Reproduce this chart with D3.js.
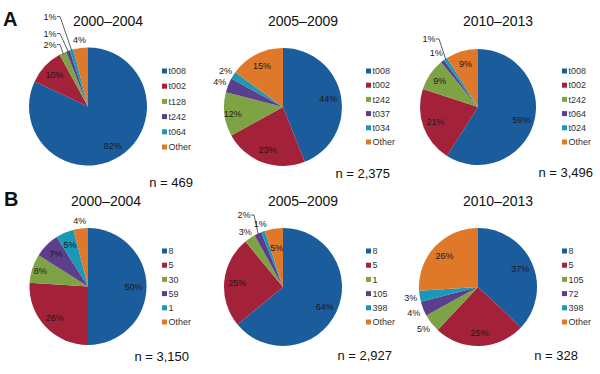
<!DOCTYPE html>
<html><head><meta charset="utf-8">
<script src="https://cdn.jsdelivr.net/npm/d3@7"></script>
<style>
body{margin:0;background:#fff}
svg{display:block;font-family:Arial,"Liberation Sans",Helvetica,sans-serif}
</style>
</head><body>
<svg id="chart" width="600" height="374"></svg>
<script>
// ---------- data ----------
const periods = ["2000–2004", "2005–2009", "2010–2013"];
const panelLetters = ["A", "B"];

const spaCats2000 = ["t008", "t002", "t128", "t242", "t064", "Other"];
const spaVals2000 = [82, 10, 2, 1, 1, 4];
const spaCats2005 = ["t008", "t002", "t242", "t037", "t034", "Other"];
const spaVals2005 = [44, 23, 12, 4, 2, 15];
const spaCats2010 = ["t008", "t002", "t242", "t064", "t024", "Other"];
const spaVals2010 = [59, 21, 9, 1, 1, 9];

const mlstCats2000 = ["8", "5", "30", "59", "1", "Other"];
const mlstVals2000 = [50, 26, 8, 7, 5, 4];
const mlstCats2005 = ["8", "5", "1", "105", "398", "Other"];
const mlstVals2005 = [64, 25, 3, 2, 1, 5];
const mlstCats2010 = ["8", "5", "105", "72", "398", "Other"];
const mlstVals2010 = [37, 25, 5, 4, 3, 26];

const sampleSizes = ["n = 469", "n = 2,375", "n = 3,496", "n = 3,150", "n = 2,927", "n = 328"];

const sliceColors = ["#1b5c9c", "#a4213a", "#7ea345", "#5b3f8c", "#1b98b8", "#e0782a"];

// ---------- layout (positions/styles only) ----------
const panels = [
  {cats: spaCats2000, vals: spaVals2000, title: periods[0], n: sampleSizes[0]},
  {cats: spaCats2005, vals: spaVals2005, title: periods[1], n: sampleSizes[1]},
  {cats: spaCats2010, vals: spaVals2010, title: periods[2], n: sampleSizes[2]},
  {cats: mlstCats2000, vals: mlstVals2000, title: periods[0], n: sampleSizes[3]},
  {cats: mlstCats2005, vals: mlstVals2005, title: periods[1], n: sampleSizes[4]},
  {cats: mlstCats2010, vals: mlstVals2010, title: periods[2], n: sampleSizes[5]}
];

const layout = [
  {cx: 88, cy: 106.5, r: 59, tx: 108, ty: 26, lx: 162, ly: 71, ld: 15.2, nx: 193, ny: 187,
   labels: [{t:"in"}, {t:"in"}, {t:"call", x:-38, y:-62}, {t:"call", x:-38, y:-73}, {t:"call", x:-38, y:-90}, {t:"out", d:8}]},
  {cx: 283, cy: 107, r: 59, tx: 303, ty: 26, lx: 366, ly: 71, ld: 14.2, nx: 390, ny: 178,
   labels: [{t:"in"}, {t:"in"}, {t:"in", k:0.86}, {t:"out", d:9}, {t:"out", d:9}, {t:"in"}]},
  {cx: 478, cy: 107, r: 58, tx: 498, ty: 26, lx: 562, ly: 71, ld: 14.2, nx: 593, ny: 177,
   labels: [{t:"in"}, {t:"in"}, {t:"in", k:0.8}, {t:"out", d:10}, {t:"call", x:-49, y:-68}, {t:"in"}]},
  {cx: 88, cy: 286.5, r: 58.5, tx: 106, ty: 206, lx: 162, ly: 251, ld: 14.2, nx: 189, ny: 361,
   labels: [{t:"in"}, {t:"in"}, {t:"in", k:0.86}, {t:"in"}, {t:"in"}, {t:"out", d:8}]},
  {cx: 283, cy: 287, r: 59, tx: 303, ty: 206, lx: 366, ly: 251, ld: 14.2, nx: 392, ny: 360,
   labels: [{t:"in"}, {t:"in"}, {t:"out", d:8}, {t:"call", x:-39, y:-72}, {t:"out", d:8}, {t:"in", k:0.68}]},
  {cx: 478, cy: 287, r: 59, tx: 498, ty: 206, lx: 562, ly: 251, ld: 14.2, nx: 578, ny: 360,
   labels: [{t:"in"}, {t:"in"}, {t:"out", d:10}, {t:"out", d:10}, {t:"out", d:9}, {t:"in"}]}
];

const svg = d3.select("#chart");
const pie = d3.pie().sort(null).value(d => d.v);

panels.forEach((p, i) => {
  const L = layout[i];
  const data = pie(p.cats.map((c, j) => ({c, v: p.vals[j], j})));
  const arc = d3.arc().innerRadius(0).outerRadius(L.r);
  const g = svg.append("g").attr("transform", `translate(${L.cx},${L.cy})`);

  g.selectAll("path.slice").data(data).join("path")
    .attr("class", "slice")
    .attr("d", arc)
    .attr("fill", d => sliceColors[d.data.j]);

  data.forEach((d, j) => {
    const pl = L.labels[j];
    const mid = (d.startAngle + d.endAngle) / 2;
    const ux = Math.sin(mid), uy = -Math.cos(mid);
    let x, y;
    if (pl.t === "in") {
      const k = pl.k || 0.78;
      x = ux * L.r * k; y = uy * L.r * k;
    } else if (pl.t === "out") {
      const rr = L.r + (pl.d || 9);
      x = ux * rr; y = uy * rr;
    } else {
      x = pl.x; y = pl.y;
      const ax = ux * (L.r - 1), ay = uy * (L.r - 1);
      g.append("path")
        .attr("d", `M${x + 7},${y}H${x + 10}L${ax},${ay}`)
        .attr("fill", "none").attr("stroke", "#333").attr("stroke-width", 0.8);
    }
    g.append("text")
      .attr("x", x).attr("y", y).attr("dy", "0.35em")
      .attr("text-anchor", "middle")
      .attr("font-size", 9).attr("fill", "#1a1a1a")
      .text(d.data.v + "%");
  });

  // title
  svg.append("text").attr("x", L.tx).attr("y", L.ty)
    .attr("text-anchor", "middle").attr("font-size", 14).attr("fill", "#111")
    .text(p.title);

  // legend
  const lg = svg.append("g");
  p.cats.forEach((c, j) => {
    const yy = L.ly + j * L.ld;
    lg.append("rect").attr("x", L.lx).attr("y", yy - 2.5).attr("width", 5).attr("height", 5)
      .attr("fill", sliceColors[j]);
    lg.append("text").attr("x", L.lx + 6.5).attr("y", yy).attr("dy", "0.35em")
      .attr("font-size", 9).attr("fill", "#333").text(c);
  });

  // sample size
  svg.append("text").attr("x", L.nx).attr("y", L.ny)
    .attr("text-anchor", "end").attr("font-size", 13).attr("fill", "#111")
    .text(p.n);
});

// panel letters
svg.append("text").attr("x", 3).attr("y", 26).attr("font-size", 20).attr("font-weight", "bold")
  .attr("fill", "#111").text(panelLetters[0]);
svg.append("text").attr("x", 4).attr("y", 206).attr("font-size", 20).attr("font-weight", "bold")
  .attr("fill", "#111").text(panelLetters[1]);
</script>
</body></html>
